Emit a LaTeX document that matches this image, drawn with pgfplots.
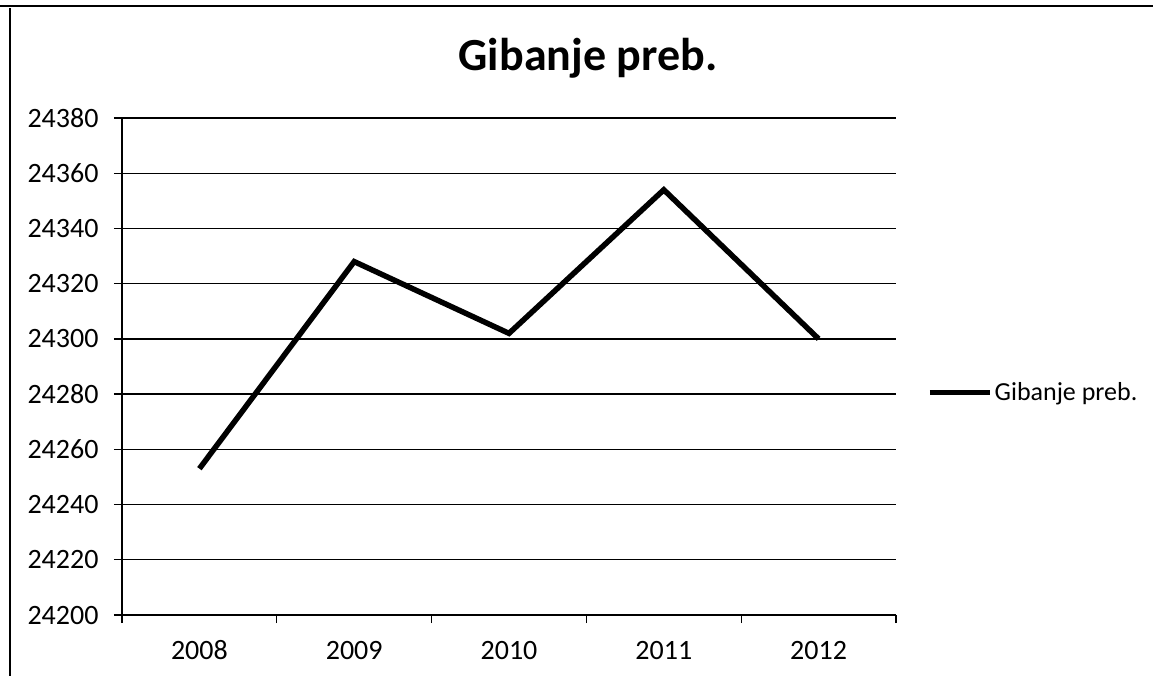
\documentclass[border=0pt]{standalone}
\usepackage{pgfplots}
\pgfplotsset{compat=1.18}
\usepackage{fontspec}
\setmainfont{Carlito}
\begin{document}
\begin{tikzpicture}
\path[use as bounding box] (0pt,0pt) rectangle (1153pt,-675pt);
\draw[line width=1.5pt] (10pt,-8pt) -- (10pt,-680pt);
\draw[line width=1.2pt] (0pt,-6pt) -- (1153pt,-6pt);
\node[font=\fontsize{46}{50}\selectfont\bfseries, anchor=base] at (588pt,-70pt) {Gibanje preb.};
\begin{axis}[
  at={(122pt,-615pt)}, anchor=south west,
  scale only axis, width=774pt, height=497pt,
  xmin=-0.5, xmax=4.5, ymin=24200, ymax=24380,
  axis x line=bottom, axis y line=left,
  axis line style={line width=1.3pt, -},
  xtick={-0.5,0.5,1.5,2.5,3.5,4.5},
  x tick label as interval,
  xticklabels={2008,2009,2010,2011,2012},
  ytick={24200,24220,...,24380},
  scaled y ticks=false,
  yticklabel={\pgfmathprintnumber[fixed,precision=0,1000 sep={},assume math mode=true]{\tick}},
  tick align=outside, major tick length=8pt,
  tick style={line width=1.3pt, black},
  ymajorgrids, grid style={line width=1.4pt, black},
  tick label style={font=\fontsize{28}{30}\selectfont},
  xticklabel style={anchor=north, yshift=-14pt, text height=19pt, text depth=0pt},
  yticklabel style={xshift=-12pt},
  legend style={draw=none, at={(1.04,0.448)}, anchor=west, font=\fontsize{26}{30}\selectfont, inner sep=0pt},
  legend cell align=left,
  legend image code/.code={\draw[line width=5.5pt] (0pt,0pt) -- (60pt,0pt);},
]
\addplot[line width=5.5pt, black, line join=miter] coordinates {(0,24253) (1,24328) (2,24302) (3,24354) (4,24300)};
\addlegendentry{Gibanje preb.}
\end{axis}
\end{tikzpicture}
\end{document}
